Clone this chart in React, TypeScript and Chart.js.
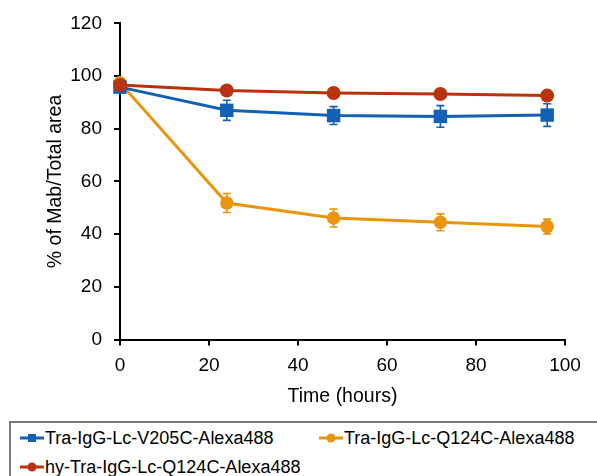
import React, { useEffect, useRef } from "react";
import { Chart, registerables } from "chart.js";

Chart.register(...registerables);

const hours = [0, 24, 48, 72, 96];
const v205c = [95.8, 87.0, 85.0, 84.7, 85.2];
const v205cErr = [1.0, 3.8, 3.4, 4.1, 4.3];
const q124c = [97.5, 51.8, 46.1, 44.5, 42.9];
const q124cErr = [1.5, 3.6, 3.4, 3.2, 2.8];
const hyQ124c = [96.6, 94.5, 93.6, 93.2, 92.6];
const hyQ124cErr = [1.0, 1.0, 1.0, 1.0, 1.2];

const xTicks = [0, 20, 40, 60, 80, 100];
const yTicks = [0, 20, 40, 60, 80, 100, 120];

const seriesNames = [
  "Tra-IgG-Lc-V205C-Alexa488",
  "Tra-IgG-Lc-Q124C-Alexa488",
  "hy-Tra-IgG-Lc-Q124C-Alexa488",
];

const BLUE = "#1361b6";
const ORANGE = "#e9950f";
const RED = "#b8330b";
const FONT = "'Liberation Sans', Arial, sans-serif";

const errorBarPlugin = {
  id: "errorBars",
  beforeDatasetsDraw(chart: any) {
    const ctx = chart.ctx;
    const xs = chart.scales.x;
    const ys = chart.scales.y;
    chart.data.datasets.forEach((ds: any) => {
      const errs: number[] = ds.errors || [];
      ctx.save();
      ctx.strokeStyle = ds.borderColor;
      ctx.lineWidth = 1.6;
      ds.data.forEach((p: any, i: number) => {
        const e = errs[i];
        if (!e) return;
        const px = xs.getPixelForValue(p.x);
        const top = ys.getPixelForValue(p.y + e);
        const bot = ys.getPixelForValue(p.y - e);
        ctx.beginPath();
        ctx.moveTo(px, top);
        ctx.lineTo(px, bot);
        ctx.moveTo(px - 4, top);
        ctx.lineTo(px + 4, top);
        ctx.moveTo(px - 4, bot);
        ctx.lineTo(px + 4, bot);
        ctx.stroke();
      });
      ctx.restore();
    });
  },
};

function toPoints(vals: number[]) {
  return hours.map((h, i) => ({ x: h, y: vals[i] }));
}

function LegendMarker({ color, square }: { color: string; square: boolean }) {
  return (
    <svg width={24} height={12} style={{ display: "block" }}>
      <line x1={0} y1={6} x2={24} y2={6} stroke={color} strokeWidth={3} />
      {square ? (
        <rect x={8} y={2} width={8} height={8} fill={color} />
      ) : (
        <circle cx={12} cy={6} r={4.5} fill={color} />
      )}
    </svg>
  );
}

function LegendItem({
  left,
  top,
  color,
  square,
  label,
}: {
  left: number;
  top: number;
  color: string;
  square: boolean;
  label: string;
}) {
  return (
    <div
      style={{
        position: "absolute",
        left,
        top,
        height: 22,
        display: "flex",
        alignItems: "center",
        fontFamily: FONT,
        fontSize: 18,
        color: "#000",
        whiteSpace: "nowrap",
      }}
    >
      <LegendMarker color={color} square={square} />
      <span style={{ marginLeft: 1 }}>{label}</span>
    </div>
  );
}

export default function App() {
  const canvasRef = useRef<HTMLCanvasElement | null>(null);

  useEffect(() => {
    if (!canvasRef.current) return;
    Chart.defaults.color = "#000";
    Chart.defaults.font.family = FONT;
    const H = 420;
    const chart = new Chart(canvasRef.current, {
      type: "line",
      data: {
        datasets: [
          {
            label: seriesNames[0],
            data: toPoints(v205c),
            errors: v205cErr,
            borderColor: BLUE,
            backgroundColor: BLUE,
            pointBackgroundColor: BLUE,
            pointBorderColor: BLUE,
            pointStyle: "rect",
            pointRadius: 9.5,
            pointBorderWidth: 0,
            borderWidth: 3,
            tension: 0,
            clip: false,
            order: 1,
          } as any,
          {
            label: seriesNames[1],
            data: toPoints(q124c),
            errors: q124cErr,
            borderColor: ORANGE,
            backgroundColor: ORANGE,
            pointBackgroundColor: ORANGE,
            pointBorderColor: ORANGE,
            pointStyle: "circle",
            pointRadius: 6.7,
            pointBorderWidth: 0,
            borderWidth: 3,
            tension: 0,
            clip: false,
            order: 2,
          } as any,
          {
            label: seriesNames[2],
            data: toPoints(hyQ124c),
            errors: hyQ124cErr,
            borderColor: RED,
            backgroundColor: RED,
            pointBackgroundColor: RED,
            pointBorderColor: RED,
            pointStyle: "circle",
            pointRadius: 7,
            pointBorderWidth: 0,
            borderWidth: 3,
            tension: 0,
            clip: false,
            order: 0,
          } as any,
        ],
      },
      options: {
        animation: false,
        responsive: false,
        devicePixelRatio: 1,
        layout: { padding: { left: 0, right: 32, top: 21, bottom: 0 } },
        plugins: {
          legend: { display: false },
          tooltip: { enabled: false },
        },
        scales: {
          x: {
            type: "linear",
            min: 0,
            max: 100,
            afterBuildTicks: (s: any) => {
              s.ticks = xTicks.map((v) => ({ value: v }));
            },
            afterFit: (s: any) => {
              s.height = H - 339.5;
            },
            grid: {
              display: true,
              drawOnChartArea: false,
              drawTicks: true,
              tickLength: 6,
              color: "#000",
              lineWidth: 2,
            },
            border: { display: true, color: "#000", width: 2 },
            ticks: {
              padding: 9,
              font: { size: 19, family: FONT },
              color: "#000",
              maxRotation: 0,
            },
            title: {
              display: true,
              text: "Time (hours)",
              font: { size: 19.5, family: FONT },
              color: "#000",
              padding: { top: 0, bottom: 12 },
            },
          },
          y: {
            type: "linear",
            min: 0,
            max: 120,
            afterBuildTicks: (s: any) => {
              s.ticks = yTicks.map((v) => ({ value: v }));
            },
            afterFit: (s: any) => {
              s.width = 120;
            },
            grid: {
              display: true,
              drawOnChartArea: false,
              drawTicks: true,
              tickLength: 6,
              color: "#000",
              lineWidth: 2,
            },
            border: { display: true, color: "#000", width: 2 },
            ticks: {
              padding: 12,
              font: { size: 19, family: FONT },
              color: "#000",
            },
            title: {
              display: true,
              text: "% of Mab/Total area",
              font: { size: 19.5, family: FONT },
              color: "#000",
              padding: { top: 44, bottom: 0 },
            },
          },
        },
      } as any,
      plugins: [errorBarPlugin],
    });
    return () => chart.destroy();
  }, []);

  return (
    <div
      style={{
        position: "fixed",
        left: 0,
        top: 0,
        width: 597,
        height: 476,
        overflow: "hidden",
        background: "#fff",
      }}
    >
      <canvas
        ref={canvasRef}
        width={597}
        height={420}
        style={{ display: "block", position: "absolute", left: 0, top: 0 }}
      />
      <div
        style={{
          position: "absolute",
          left: 9,
          top: 421,
          width: 700,
          height: 120,
          borderTop: "2px solid #7a7a7a",
          borderLeft: "2px solid #7a7a7a",
          boxSizing: "border-box",
          background: "#fff",
        }}
      />
      <LegendItem left={20} top={427} color={BLUE} square={true} label={seriesNames[0]} />
      <LegendItem left={319} top={427} color={ORANGE} square={false} label={seriesNames[1]} />
      <LegendItem left={20} top={456} color={RED} square={false} label={seriesNames[2]} />
    </div>
  );
}
